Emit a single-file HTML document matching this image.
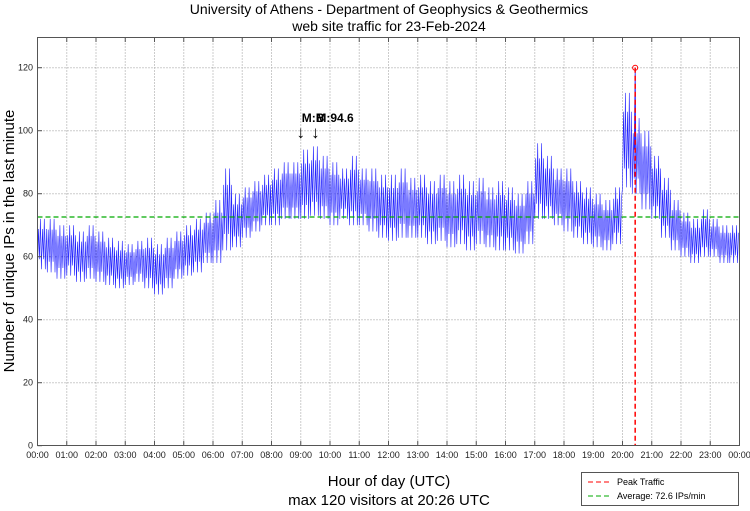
<!DOCTYPE html>
<html><head><meta charset="utf-8"><style>
body{margin:0;background:#fff;}
svg{display:block;font-family:"Liberation Sans",sans-serif;}
</style></head><body>
<svg id="chart" width="750" height="511" viewBox="0 0 750 511">
<rect x="0" y="0" width="750" height="511" fill="#fff"/>
<text x="389" y="14" font-size="14" text-anchor="middle">University of Athens - Department of Geophysics &amp; Geothermics</text>
<text x="389" y="31" font-size="14" text-anchor="middle">web site traffic for 23-Feb-2024</text>
<g id="grid"></g>
<g id="series"></g>
<g id="overlay"></g>
<rect x="37.5" y="37.5" width="702" height="408" fill="none" stroke="#555" stroke-width="1"/>
<g id="ticks"></g>
<text transform="translate(14,241) rotate(-90)" font-size="15" text-anchor="middle">Number of unique IPs in the last minute</text>
<text x="389" y="486" font-size="15" text-anchor="middle">Hour of day (UTC)</text>
<text x="389" y="505" font-size="15" text-anchor="middle">max 120 visitors at 20:26 UTC</text>
<g>
<rect x="581.5" y="472.5" width="157" height="33" fill="#fff" stroke="#555"/>
<line x1="588" y1="482" x2="612" y2="482" stroke="#f00" stroke-dasharray="5,3"/>
<text x="617" y="485" font-size="9">Peak Traffic</text>
<line x1="588" y1="496" x2="612" y2="496" stroke="#0a0" stroke-dasharray="5,3"/>
<text x="617" y="499" font-size="9">Average: 72.6 IPs/min</text>
</g>
</svg>
<script>
const hours=["00:00","01:00","02:00","03:00","04:00","05:00","06:00","07:00","08:00","09:00","10:00","11:00","12:00","13:00","14:00","15:00","16:00","17:00","18:00","19:00","20:00","21:00","22:00","23:00","00:00"];
const yTicks=[0,20,40,60,80,100,120];
const bucketMinutes=20;
const lo=[56,55,53,54,52,53,52,51,50,51,52,50,48,50,53,54,55,58,58,62,63,66,68,70,70,72,72,72,73,72,70,72,70,70,68,66,65,66,66,66,64,65,63,64,62,64,63,62,62,61,64,72,72,70,68,66,64,63,62,64,82,80,75,72,66,62,60,58,60,60,58,58];
const hi=[72,72,70,70,68,70,68,66,65,64,65,66,64,66,68,70,72,74,78,88,80,82,84,86,88,90,90,94,95,92,90,88,92,88,88,86,86,88,85,86,84,86,84,86,84,85,82,84,82,80,84,96,92,88,88,84,82,80,78,82,112,104,100,92,85,78,74,72,75,72,70,70];
const average=72.6;
const peakValue=120;
const peakMinute=20*60+26;
const annotations=[{minute:540,label:"M:B"},{minute:570,label:"M:94.6"}];

const X0=37.5,X1=739.5,Y0=445.7,Y1=67.7;
const xs=m=>X0+(X1-X0)*m/1440;
const ys=v=>Y0-(Y0-Y1)*v/120;
const NS="http://www.w3.org/2000/svg";
function mk(tag,attrs,parent){const e=document.createElementNS(NS,tag);for(const k in attrs)e.setAttribute(k,attrs[k]);parent.appendChild(e);return e;}
const grid=document.getElementById('grid'),ticks=document.getElementById('ticks'),series=document.getElementById('series'),ov=document.getElementById('overlay');
hours.forEach((h,i)=>{const x=xs(i*60);
 if(i>0&&i<24){const l=mk('line',{x1:x,y1:37.5,x2:x,y2:445.5,stroke:'#999','stroke-dasharray':'1,2'},grid);
 
 }
 mk('line',{x1:x,y1:445.5,x2:x,y2:441,stroke:'#555'},ticks);
 mk('line',{x1:x,y1:37.5,x2:x,y2:42,stroke:'#555'},ticks);
 const t=mk('text',{x:x,y:458,'font-size':9,'text-anchor':'middle',fill:'#222'},ticks);t.textContent=h;
 
 
});
yTicks.forEach(v=>{const y=ys(v);
 if(v>0){const l=mk('line',{x1:37.5,y1:y,x2:739.5,y2:y,stroke:'#999','stroke-dasharray':'1,2'},grid);
 
 }
 mk('line',{x1:37.5,y1:y,x2:42,y2:y,stroke:'#555'},ticks);
 const t=mk('text',{x:33,y:y+3,'font-size':9,'text-anchor':'end',fill:'#222'},ticks);t.textContent=v;
 
 
});
let pts=[];const steps=10;
for(let b=0;b<lo.length;b++){
 for(let s=0;s<steps;s++){const m=b*bucketMinutes+s*bucketMinutes/steps;
  const a=(s%2===0)?lo[b]:hi[b];
  const v=(s%4===0||s%4===3)?a:(lo[b]+hi[b])/2+((s%2)?(hi[b]-lo[b])*0.3:-(hi[b]-lo[b])*0.3);
  pts.push(xs(m).toFixed(1)+','+ys(v).toFixed(1));}
}
const pl=mk('polyline',{points:pts.join(' '),fill:'none',stroke:'#22f','stroke-width':0.6},series);


const spPts=[[peakMinute-2,hi[61]-10],[peakMinute,peakValue],[peakMinute+2,lo[61]]].map(p=>xs(p[0]).toFixed(1)+','+ys(p[1]).toFixed(1)).join(' ');
const sp=mk('polyline',{points:spPts,fill:'none',stroke:'#22f','stroke-width':0.8},series);


const avg=mk('line',{x1:37.5,y1:ys(average),x2:739.5,y2:ys(average),stroke:'#0a0','stroke-dasharray':'5,3','stroke-width':1.2},ov);


const pk=mk('line',{x1:xs(peakMinute),y1:ys(peakValue),x2:xs(peakMinute),y2:Y0,stroke:'#f00','stroke-dasharray':'5,3','stroke-width':1.5},ov);


const pc=mk('circle',{cx:xs(peakMinute),cy:ys(peakValue),r:2.5,fill:'none',stroke:'#f00'},ov);


annotations.forEach(a=>{const x=xs(a.minute);
 const t=mk('text',{x:x+1,y:122,'font-size':12,'font-weight':'bold'},ov);t.textContent=a.label;
 
 
 const r=mk('text',{x:x,y:138,'font-size':17,'text-anchor':'middle'},ov);r.textContent='↓';
 
 
});
</script>
</body></html>
